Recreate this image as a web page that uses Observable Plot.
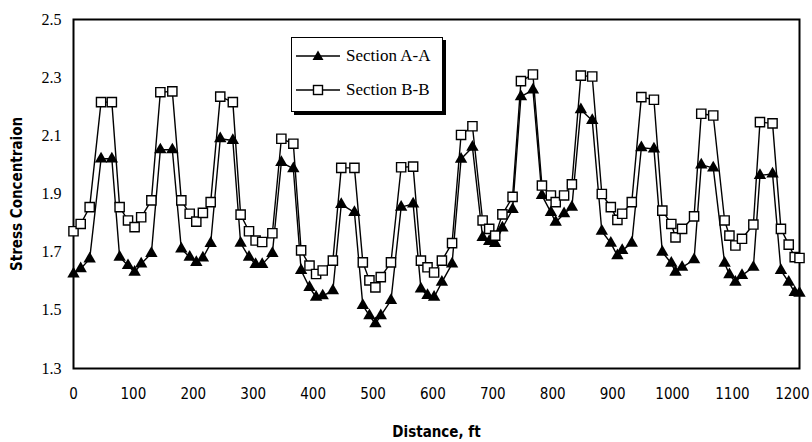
<!DOCTYPE html>
<html>
<head>
<meta charset="utf-8">
<script src="https://cdn.jsdelivr.net/npm/d3@7"></script>
<script src="https://cdn.jsdelivr.net/npm/@observablehq/plot@0.6"></script>
<style>
  html, body { margin: 0; padding: 0; background: #fff; }
  #wrap { position: relative; width: 812px; height: 442px; }
  #legend {
    position: absolute; left: 291px; top: 37px; width: 150px; height: 73px;
    border: 1.5px solid #000; box-shadow: 3px 3px 0 #000; background: #fff;
    font-family: "Liberation Serif", "Times New Roman", serif; font-size: 17px;
  }
  .row { position: absolute; left: 2px; height: 24px; display: flex; align-items: center; }
  .row svg { display: block; }
  .row span { margin-left: 4px; }
  .narrow { font-stretch: condensed; }
</style>
</head>
<body>
<div id="wrap"></div>
<script>
// Distance, ft
const distance = [0, 12, 27,
  46, 64, 77, 91, 102, 113, 130,
  145, 165, 180, 194, 205, 216, 229,
  245, 266, 279, 293, 304, 315, 332,
  347, 367, 380, 394, 405, 416, 433,
  447, 469, 483, 494, 504, 513, 530,
  547, 567, 580, 591, 602, 615, 632,
  647, 666, 683, 694, 704, 716, 733,
  747, 767, 782, 797, 805, 819, 832,
  847, 866, 882, 897, 908, 916, 932,
  948, 969, 983, 998, 1005, 1016, 1036,
  1048, 1068, 1087, 1095, 1105, 1116, 1135,
  1146, 1167, 1181, 1194, 1204, 1212];

// Section A-A (triangles)
const sectionA = [1.625, 1.643, 1.677,
  2.021, 2.021, 1.683, 1.654, 1.631, 1.66, 1.696,
  2.052, 2.052, 1.711, 1.683, 1.665, 1.68, 1.73,
  2.09, 2.084, 1.731, 1.683, 1.658, 1.658, 1.696,
  2.009, 1.987, 1.637, 1.579, 1.545, 1.55, 1.568,
  1.864, 1.837, 1.517, 1.482, 1.454, 1.482, 1.534,
  1.855, 1.866, 1.574, 1.551, 1.545, 1.597, 1.66,
  2.02, 2.061, 1.751, 1.737, 1.73, 1.783, 1.847,
  2.235, 2.258, 1.895, 1.837, 1.803, 1.832, 1.855,
  2.19, 2.153, 1.772, 1.731, 1.688, 1.706, 1.731,
  2.059, 2.055, 1.7, 1.662, 1.631, 1.648, 1.674,
  2.0, 1.99, 1.662, 1.623, 1.597, 1.62, 1.648,
  1.964, 1.969, 1.637, 1.597, 1.562, 1.559];

// Section B-B (squares)
const sectionB = [1.772, 1.797, 1.855,
  2.216, 2.216, 1.855, 1.809, 1.786, 1.82, 1.878,
  2.25, 2.253, 1.878, 1.832, 1.805, 1.835, 1.872,
  2.235, 2.216, 1.829, 1.772, 1.74, 1.735, 1.765,
  2.09, 2.073, 1.706, 1.654, 1.625, 1.637, 1.671,
  1.99, 1.99, 1.665, 1.603, 1.579, 1.614, 1.665,
  1.992, 1.994, 1.671, 1.648, 1.63, 1.671, 1.731,
  2.103, 2.133, 1.809, 1.78, 1.757, 1.83, 1.89,
  2.288, 2.311, 1.929, 1.895, 1.872, 1.895, 1.933,
  2.307, 2.304, 1.9, 1.855, 1.811, 1.832, 1.872,
  2.233, 2.224, 1.843, 1.797, 1.751, 1.78, 1.823,
  2.176, 2.17, 1.809, 1.757, 1.723, 1.746, 1.795,
  2.147, 2.143, 1.78, 1.726, 1.683, 1.68];

const xTicks = [0, 100, 200, 300, 400, 500, 600, 700, 800, 900, 1000, 1100, 1200];
const yTicks = [1.3, 1.5, 1.7, 1.9, 2.1, 2.3, 2.5];

const data = distance.map((d, i) => ({d, a: sectionA[i], b: sectionB[i]}));

const narrow = "'DejaVu Sans', sans-serif";
const serif = "'Liberation Serif', 'Times New Roman', serif";

const chart = Plot.plot({
  width: 812,
  height: 442,
  marginLeft: 73,
  marginRight: 13,
  marginTop: 19,
  marginBottom: 74,
  x: {domain: [0, 1212]},
  y: {domain: [1.3, 2.5]},
  marks: [
    Plot.axisY({ticks: yTicks, tickSize: 0, tickPadding: 12, tickFormat: d3.format(".1f"),
      fontSize: 16, fontFamily: serif,
      label: "Stress Concentraion", labelAnchor: "center", labelArrow: false, labelOffset: 62}),
    Plot.axisX({ticks: xTicks, tickSize: 0, tickPadding: 20, tickFormat: d => String(d),
      fontSize: 15, fontFamily: narrow,
      label: "Distance, ft", labelAnchor: "center", labelArrow: false, labelOffset: 68}),
    Plot.frame({stroke: "black", strokeWidth: 2}),
    Plot.line(data, {x: "d", y: "a", stroke: "black", strokeWidth: 1.4}),
    Plot.line(data, {x: "d", y: "b", stroke: "black", strokeWidth: 1.4}),
    Plot.dot(data, {x: "d", y: "a", symbol: "triangle", fill: "black", r: 4.6}),
    Plot.dot(data, {x: "d", y: "b", symbol: "square", fill: "white", stroke: "black", strokeWidth: 1.4, r: 5.2})
  ]
});

// condensed sans for x tick labels and axis titles
chart.querySelectorAll('[aria-label="x-axis tick label"]').forEach(g => g.classList.add("narrow"));
chart.querySelectorAll('[aria-label="y-axis label"], [aria-label="x-axis label"]').forEach(g => {
  g.classList.add("narrow");
  g.setAttribute("font-family", narrow);
  g.setAttribute("font-weight", "bold");
  g.setAttribute("font-size", "15");
  g.querySelectorAll("text").forEach(t => { t.removeAttribute("font-family"); });
});

const wrap = document.getElementById("wrap");
wrap.appendChild(chart);

const legend = document.createElement("div");
legend.id = "legend";
legend.innerHTML = `
  <div class="row" style="top:6px">
    <svg width="48" height="20"><line x1="2" y1="10" x2="46" y2="10" stroke="black" stroke-width="1.5"/>
    <path d="M24,4.5 L29.5,14 L18.5,14 Z" fill="black"/></svg><span>Section A-A</span></div>
  <div class="row" style="top:40px">
    <svg width="48" height="20"><line x1="2" y1="10" x2="46" y2="10" stroke="black" stroke-width="1.5"/>
    <rect x="19.5" y="5.5" width="9" height="9" fill="white" stroke="black" stroke-width="1.4"/></svg><span>Section B-B</span></div>`;
wrap.appendChild(legend);
</script>
</body>
</html>
